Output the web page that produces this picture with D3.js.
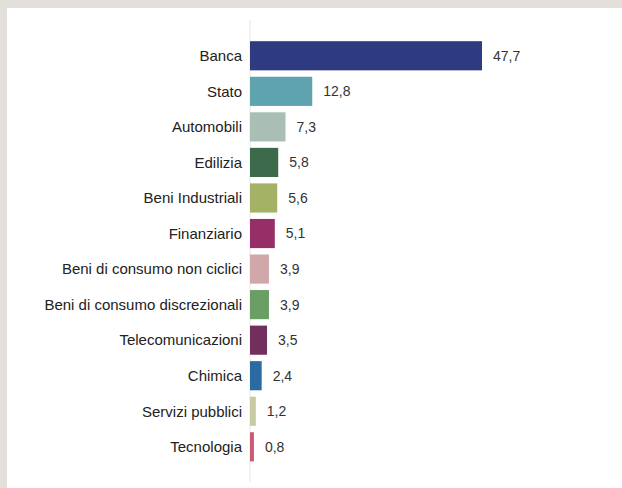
<!DOCTYPE html>
<html>
<head>
<meta charset="utf-8">
<script src="https://cdn.jsdelivr.net/npm/d3@7"></script>
<style>
  html, body { margin: 0; padding: 0; background: #e3dfda; }
  svg { display: block; }
</style>
</head>
<body>
<svg id="chart" width="622" height="488"></svg>
<script>
const categories = ["Banca", "Stato", "Automobili", "Edilizia", "Beni Industriali", "Finanziario",
  "Beni di consumo non ciclici", "Beni di consumo discrezionali", "Telecomunicazioni",
  "Chimica", "Servizi pubblici", "Tecnologia"];
const values = [47.7, 12.8, 7.3, 5.8, 5.6, 5.1, 3.9, 3.9, 3.5, 2.4, 1.2, 0.8];
const colors = ["#2f3b80", "#5fa3af", "#a9bfb6", "#3d6a4b", "#a3b265", "#962f67",
  "#d1a8a9", "#6a9e65", "#722e5d", "#2a6ca1", "#c8cba1", "#c95a6f"];

const svg = d3.select("#chart");
// white panel
svg.append("rect").attr("x", 7).attr("y", 8).attr("width", 615).attr("height", 480).attr("fill", "#ffffff");

const x0 = 250;
const x = d3.scaleLinear().domain([0, 47.7]).range([x0, 482]);
const y = d3.scaleBand().domain(categories).range([38, 464.6]).paddingInner(0.18).paddingOuter(0.09);

// axis line
svg.append("line").attr("x1", x0).attr("x2", x0).attr("y1", 20).attr("y2", 482)
  .attr("stroke", "#e6e6e6").attr("stroke-width", 1);

const data = categories.map((c, i) => ({ c, v: values[i], col: colors[i] }));

svg.selectAll("rect.bar").data(data).join("rect")
  .attr("class", "bar")
  .attr("x", x0)
  .attr("y", d => y(d.c))
  .attr("width", d => x(d.v) - x0)
  .attr("height", y.bandwidth())
  .attr("fill", d => d.col);

svg.selectAll("text.cat").data(data).join("text")
  .attr("class", "cat")
  .attr("x", 242)
  .attr("y", d => y(d.c) + y.bandwidth() / 2)
  .attr("dy", "0.35em")
  .attr("text-anchor", "end")
  .attr("font-family", "Liberation Sans, Arial, sans-serif")
  .attr("font-size", 15)
  .attr("fill", "#222")
  .text(d => d.c);

const fmt = d3.formatLocale({ decimal: ",", thousands: ".", grouping: [3], currency: ["", "€"] }).format(".1f");
svg.selectAll("text.val").data(data).join("text")
  .attr("class", "val")
  .attr("x", d => x(d.v) + 11)
  .attr("y", d => y(d.c) + y.bandwidth() / 2)
  .attr("dy", "0.35em")
  .attr("font-family", "Liberation Sans, Arial, sans-serif")
  .attr("font-size", 14)
  .attr("fill", "#333")
  .text(d => fmt(d.v));
</script>
</body>
</html>
